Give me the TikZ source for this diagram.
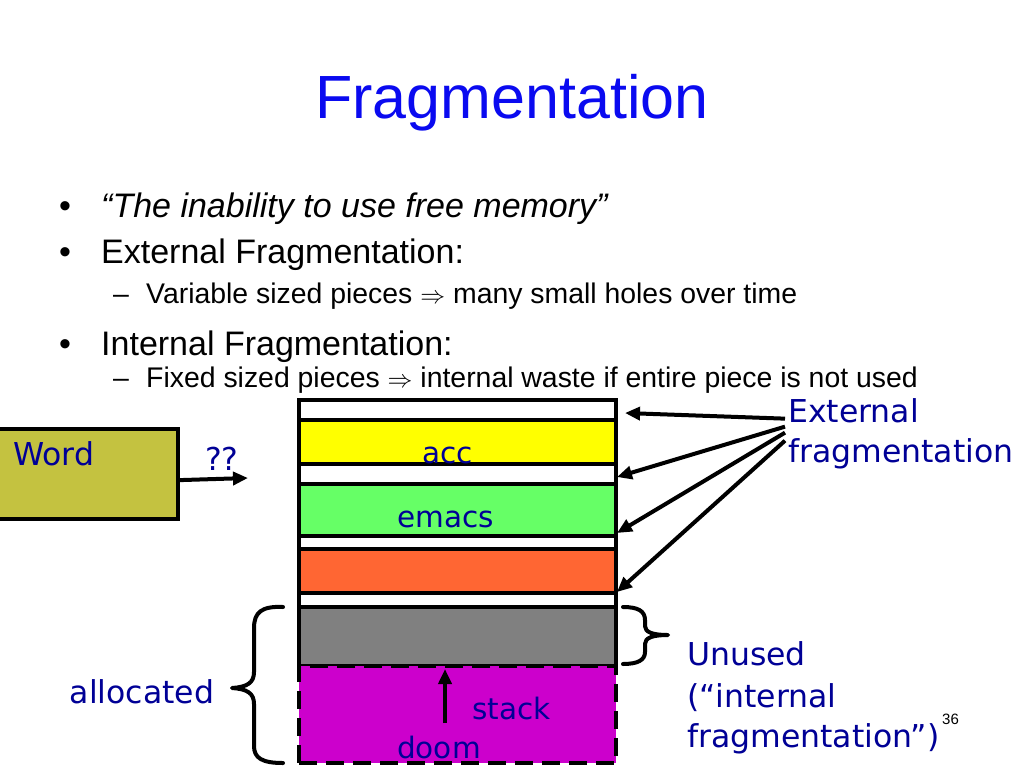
\documentclass[tikz,border=0pt]{standalone}
\usepackage{fontspec}
\setmainfont{Liberation Sans}
\newfontfamily\hand{DejaVu Sans}
\usetikzlibrary{arrows.meta}
\definecolor{titleblue}{RGB}{10,10,240}
\definecolor{handblue}{RGB}{0,0,150}
\definecolor{memyellow}{RGB}{255,255,0}
\definecolor{memgreen}{RGB}{102,255,102}
\definecolor{memorange}{RGB}{255,102,51}
\definecolor{memgray}{RGB}{128,128,128}
\definecolor{memmagenta}{RGB}{204,0,204}
\definecolor{wordolive}{RGB}{196,194,64}
\tikzset{
  mem/.style={draw=black, line width=4.2pt, minimum width=317pt, inner sep=0pt, outer sep=0pt, anchor=north west},
  lab/.style={font=\hand\fontsize{31.5}{40}\selectfont, text=handblue, inner sep=0pt, anchor=base west},
  memlab/.style={font=\hand\fontsize{29.5}{40}\selectfont, text=handblue, inner sep=0pt, anchor=base west},
  bul/.style={font=\fontsize{34}{40}\selectfont, anchor=base west, inner sep=0pt},
  subb/.style={font=\fontsize{28.4}{32}\selectfont, anchor=base west, inner sep=0pt},
  arr/.style={-{Triangle[length=15pt,width=13pt]}, line width=4pt},
  bracestyle/.style={line width=4pt, line cap=round, line join=round}
}
\begin{document}
\begin{tikzpicture}[x=1pt,y=-1pt]
\useasboundingbox (0,0) rectangle (1024,768);
\fill[white] (0,0) rectangle (1024,768);

% title
\node[font=\fontsize{61}{70}\selectfont, text=titleblue, anchor=base, inner sep=0pt] (title) at (512,118) {Fragmentation};

% bullets
\node[bul] (b1dot) at (59,217) {\textbullet};
\node[bul] (b1) at (101,217) {\itshape “The inability to use free memory”};
\node[bul] (b2dot) at (59,263) {\textbullet};
\node[bul] (b2) at (101,263) {External Fragmentation:};
\node[subb] (s1dash) at (113,303) {–};
\node[subb] (s1) at (146,303) {Variable sized pieces $\Rightarrow$ many small holes over time};
\node[bul] (b3dot) at (59,355) {\textbullet};
\node[bul] (b3) at (101,355) {Internal Fragmentation:};
\node[subb] (s2dash) at (113,387) {–};
\node[subb] (s2) at (146,387) {Fixed sized pieces $\Rightarrow$ internal waste if entire piece is not used};

% memory column
\node[mem, fill=white, minimum height=20pt] (gap1) at (299,400) {};
\node[mem, fill=memyellow, minimum height=44pt] (acc) at (299,420) {};
\node[mem, fill=white, minimum height=20pt] (gap2) at (299,464) {};
\node[mem, fill=memgreen, minimum height=52pt] (emacs) at (299,484) {};
\node[mem, fill=white, minimum height=13pt] (gap3) at (299,536) {};
\node[mem, fill=memorange, minimum height=44pt] (orange) at (299,549) {};
\node[mem, fill=white, minimum height=14pt] (gap4) at (299,593) {};
\node[mem, fill=memgray, minimum height=59pt] (unused) at (299,607) {};
\node[mem, fill=memmagenta, minimum height=97pt, dash pattern=on 18pt off 9pt] (stackblk) at (299,666) {};

\node[memlab] (acclab) at (422,463) {acc};
\node[memlab] (emacslab) at (397,527) {emacs};
\node[memlab] (stacklab) at (472,719) {stack};
\node[memlab] (doomlab) at (397,758) {doom};
\coordinate (stackfoot) at (445,723);
\draw[arr] (stackfoot) -- ([xshift=-12.5pt,yshift=-3pt]stackblk.north);

% Word box
\node[draw=black, line width=4.2pt, fill=wordolive, minimum width=188pt, minimum height=90pt, inner sep=0pt, anchor=north east] (word) at (180,427) {};
\node[lab] (wordlab) at (13,465) {Word};
\coordinate (wq) at (248,478);
\draw[arr] ([yshift=-6pt]word.east) -- (wq);
\node[lab] (qq) at (205,470) {??};

% external fragmentation
\node[lab] (ext1) at (788,422) {External};
\node[lab] (ext2) at (788,462) {fragmentation};
\draw[arr] ([xshift=-3pt,yshift=4pt]ext1.south west) -- ([xshift=9pt,yshift=-3pt]gap1.east);
\draw[arr] ([xshift=-3pt,yshift=-4pt]ext1.south west) -- ([xshift=1pt,yshift=-3pt]gap2.east);
\draw[arr] ([xshift=-3pt,yshift=-10pt]ext1.south west) -- ([xshift=1pt,yshift=9.5pt]gap3.east);
\draw[arr] ([xshift=-3pt,yshift=-18pt]ext1.south west) -- ([xshift=1pt,yshift=8pt]gap4.east);

% left brace (allocated)
\draw[bracestyle] (283,607) .. controls (262,606) and (254,612) .. (254,628) -- (254,672)
  .. controls (254,683) and (247,687) .. (232,688)
  .. controls (247,689) and (254,693) .. (254,704) -- (254,746)
  .. controls (254,758) and (262,763) .. (283,763);
\node[font=\hand\fontsize{31.5}{40}\selectfont, text=handblue, inner sep=0pt] (alloc) at (142,692) {allocated};

% right brace (unused)
\draw[bracestyle] (623,607) .. controls (638,607) and (645,611) .. (645,620) -- (645,626)
  .. controls (645,632) and (652,635) .. (668,635)
  .. controls (652,635) and (645,638) .. (645,644) -- (645,652)
  .. controls (645,660) and (638,664) .. (623,664);
\node[lab] (un1) at (687,665) {Unused};
\node[lab] (un2) at (687,707) {(“internal};
\node[lab] (un3) at (687,747) {fragmentation”)};

% page number
\node[font=\fontsize{15}{18}\selectfont, anchor=base west, inner sep=0pt] (pagenum) at (942,724) {36};
\end{tikzpicture}
\end{document}
